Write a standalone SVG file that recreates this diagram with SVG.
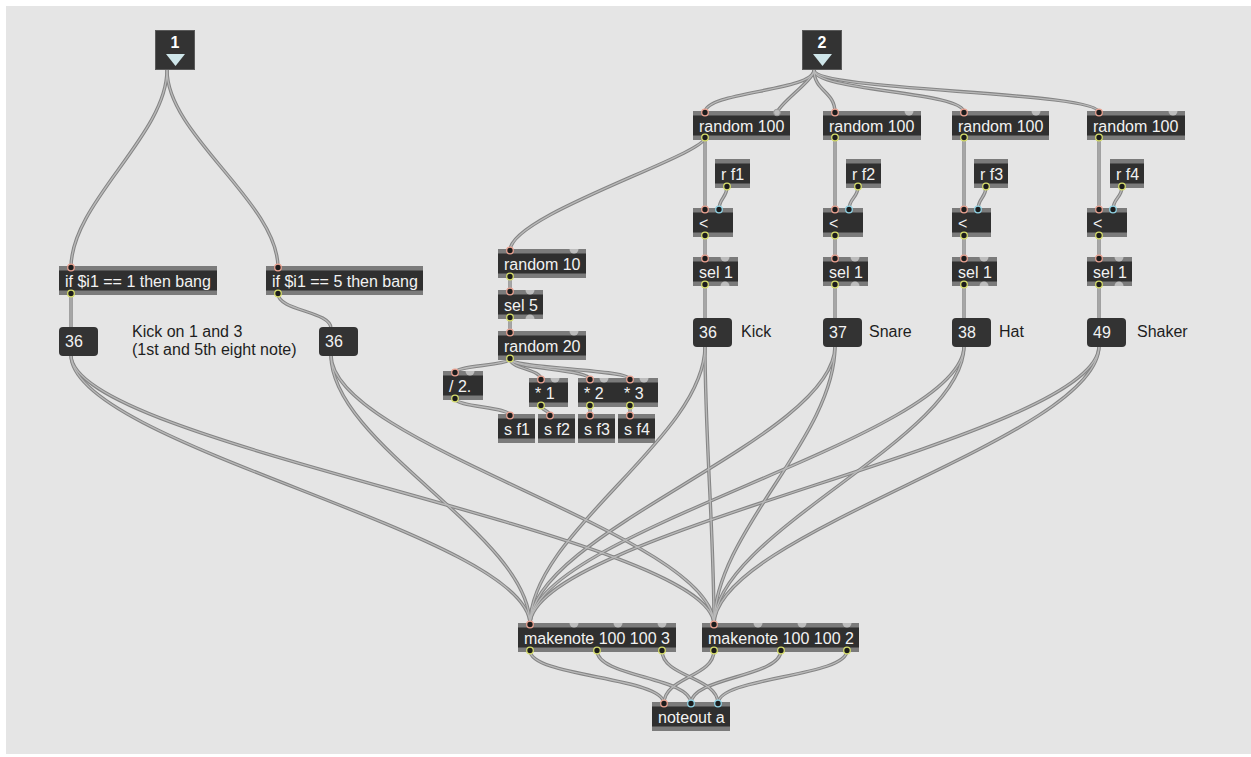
<svg xmlns="http://www.w3.org/2000/svg" xmlns:xlink="http://www.w3.org/1999/xlink" width="1251" height="757" viewBox="0 0 1251 757">
<style>
.bg{fill:#e5e5e5}
.strip{fill:#7b7b7b}
.body{fill:#2f2f2f}
.msg{fill:#333333}
.t{font-family:"Liberation Sans",Arial,sans-serif;font-size:16px;fill:#f2f2f2}
.c{font-family:"Liberation Sans",Arial,sans-serif;font-size:16px;fill:#1e1e1e}
.inl{fill:#333333;stroke:#5a5a5a;stroke-width:1}
.inlt{font-family:"Liberation Sans",Arial,sans-serif;font-size:16px;font-weight:bold;fill:#ffffff}
.tri{fill:#cfe6ea}
.hot{fill:#1c1c1c;stroke:#e9a190;stroke-width:1.3}
.cold{fill:#1c1c1c;stroke:#8fd2e4;stroke-width:1.3}
.graycon{fill:#bdbdbd;stroke:#9a9a9a;stroke-width:1}
.out{fill:#1c1c1c;stroke:#d6dd6a;stroke-width:1.3}
.free{fill:#bdbdbd}
.co{fill:none;stroke:#858585;stroke-width:3.4;stroke-linecap:round}
.ci{fill:none;stroke:#b9b9b9;stroke-width:1.3;stroke-linecap:round}
</style>
<rect x="0" y="0" width="1251" height="757" fill="#ffffff"/>
<rect class="bg" x="6" y="6" width="1245" height="748"/>

<g id="connectors">
<g class="co">
<path id="k1" d="M167,70 C167,135 71,202.5 71,267.5"/>
<path id="k2" d="M167,70 C167,135 278,202.5 278,267.5"/>
<path id="k3" d="M71,293.5 L71,328.5"/>
<path id="k4" d="M278,293.5 C278,311 331,311 331,328.5"/>
<path id="k5" d="M814,70 C814,91.3 705,91.3 705,112.5"/>
<path id="k6" d="M814,70 C814,80 781,102 777,112.5"/>
<path id="k7" d="M814,70 C814,91.3 835,91.3 835,112.5"/>
<path id="k8" d="M814,70 C814,91.3 964,91.3 964,112.5"/>
<path id="k9" d="M814,70 C814,91.3 1099,91.3 1099,112.5"/>
<path id="k10" d="M705,137.5 L705,209.5"/>
<path id="k11" d="M727,186.5 C727,198 719,198 719,209.5"/>
<path id="k12" d="M705,235.5 L705,258.5"/>
<path id="k13" d="M705,284.5 L705,319.5"/>
<path id="k14" d="M835,137.5 L835,209.5"/>
<path id="k15" d="M858,186.5 C858,198 849,198 849,209.5"/>
<path id="k16" d="M835,235.5 L835,258.5"/>
<path id="k17" d="M835,284.5 L835,319.5"/>
<path id="k18" d="M964,137.5 L964,209.5"/>
<path id="k19" d="M986,186.5 C986,198 978,198 978,209.5"/>
<path id="k20" d="M964,235.5 L964,258.5"/>
<path id="k21" d="M964,284.5 L964,319.5"/>
<path id="k22" d="M1099,137.5 L1099,209.5"/>
<path id="k23" d="M1122,186.5 C1122,198 1113,198 1113,209.5"/>
<path id="k24" d="M1099,235.5 L1099,258.5"/>
<path id="k25" d="M1099,284.5 L1099,319.5"/>
<path id="k26" d="M705,137.5 C705,155 510,215 510,250.5"/>
<path id="k27" d="M510,276.5 L510,291.5"/>
<path id="k28" d="M510,317.5 L510,332.5"/>
<path id="k29" d="M510,358.5 C510,365.5 455,365.5 455,372.5"/>
<path id="k30" d="M510,358.5 C510,369 541,369 541,379.5"/>
<path id="k31" d="M510,358.5 C510,369 590,369 590,379.5"/>
<path id="k32" d="M510,358.5 C510,369 630,369 630,379.5"/>
<path id="k33" d="M455,398.5 C455,407 510,407 510,415.5"/>
<path id="k34" d="M541,405.5 C541,410.5 550,410.5 550,415.5"/>
<path id="k35" d="M590,405.5 L590,415.5"/>
<path id="k36" d="M630,405.5 L630,415.5"/>
<path id="k37" d="M71,355 C71,445 530,534.5 530,624.5"/>
<path id="k38" d="M71,355 C71,445 714,534.5 714,624.5"/>
<path id="k39" d="M331,355 C331,445 530,534.5 530,624.5"/>
<path id="k40" d="M331,355 C331,445 714,534.5 714,624.5"/>
<path id="k41" d="M705,346 C705,438 530,532.5 530,624.5"/>
<path id="k42" d="M705,346 C705,438 714,532.5 714,624.5"/>
<path id="k43" d="M835,346 C835,438 530,532.5 530,624.5"/>
<path id="k44" d="M835,346 C835,438 714,532.5 714,624.5"/>
<path id="k45" d="M964,346 C964,438 530,532.5 530,624.5"/>
<path id="k46" d="M964,346 C964,438 714,532.5 714,624.5"/>
<path id="k47" d="M1099,346 C1099,438 530,532.5 530,624.5"/>
<path id="k48" d="M1099,346 C1099,438 714,532.5 714,624.5"/>
<path id="k49" d="M530,650.5 C530,677 664,677 664,703.5"/>
<path id="k50" d="M597,650.5 C597,677 691,677 691,703.5"/>
<path id="k51" d="M662,650.5 C662,677 718,677 718,703.5"/>
<path id="k52" d="M714,650.5 C714,677 664,677 664,703.5"/>
<path id="k53" d="M781,650.5 C781,677 691,677 691,703.5"/>
<path id="k54" d="M847,650.5 C847,677 718,677 718,703.5"/>
</g>
<g class="ci">
<use href="#k1"/><use href="#k2"/><use href="#k3"/><use href="#k4"/><use href="#k5"/><use href="#k6"/><use href="#k7"/><use href="#k8"/><use href="#k9"/><use href="#k10"/>
<use href="#k11"/><use href="#k12"/><use href="#k13"/><use href="#k14"/><use href="#k15"/><use href="#k16"/><use href="#k17"/><use href="#k18"/><use href="#k19"/><use href="#k20"/>
<use href="#k21"/><use href="#k22"/><use href="#k23"/><use href="#k24"/><use href="#k25"/><use href="#k26"/><use href="#k27"/><use href="#k28"/><use href="#k29"/><use href="#k30"/>
<use href="#k31"/><use href="#k32"/><use href="#k33"/><use href="#k34"/><use href="#k35"/><use href="#k36"/><use href="#k37"/><use href="#k38"/><use href="#k39"/><use href="#k40"/>
<use href="#k41"/><use href="#k42"/><use href="#k43"/><use href="#k44"/><use href="#k45"/><use href="#k46"/><use href="#k47"/><use href="#k48"/><use href="#k49"/><use href="#k50"/>
<use href="#k51"/><use href="#k52"/><use href="#k53"/><use href="#k54"/>
</g>
</g>

<g id="inlet1"><rect class="inl" x="155.5" y="30.5" width="39" height="39"/><text class="inlt" x="175" y="48" text-anchor="middle">1</text><polygon class="tri" points="166,54 185,54 175.5,66"/></g>
<g id="inlet2"><rect class="inl" x="802.5" y="30.5" width="39" height="39"/><text class="inlt" x="822" y="48" text-anchor="middle">2</text><polygon class="tri" points="813,54 832,54 822.5,66"/></g>

<g id="if1"><rect class="strip" x="59" y="266" width="158" height="29"/><rect class="body" x="59" y="270.5" width="158" height="20"/><text class="t" x="65" y="287">if $i1 == 1 then bang</text><circle class="hot" cx="71" cy="267.5" r="3.3"/><circle class="out" cx="71" cy="293.5" r="3.3"/></g>
<g id="if5"><rect class="strip" x="266" y="266" width="157" height="29"/><rect class="body" x="266" y="270.5" width="157" height="20"/><text class="t" x="272" y="287">if $i1 == 5 then bang</text><circle class="hot" cx="278" cy="267.5" r="3.3"/><circle class="out" cx="278" cy="293.5" r="3.3"/></g>
<g id="msg36a"><rect class="msg" x="59" y="327" width="39" height="29" rx="4"/><text class="t" x="65" y="347">36</text></g>
<g id="msg36b"><rect class="msg" x="319" y="327" width="39" height="29" rx="4"/><text class="t" x="325" y="347">36</text></g>
<g id="comment-kick13"><text class="c" x="132" y="337">Kick on 1 and 3</text><text class="c" x="132" y="354.5">(1st and 5th eight note)</text></g>

<g id="random100-1"><rect class="strip" x="693" y="111" width="97" height="29"/><rect class="body" x="693" y="115.5" width="97" height="20"/><text class="t" x="699" y="132">random 100</text><circle class="hot" cx="705" cy="112.5" r="3.3"/><circle class="graycon" cx="777" cy="112.5" r="3.3"/><circle class="out" cx="705" cy="137.5" r="3.3"/></g>
<g id="random100-2"><rect class="strip" x="823" y="111" width="98" height="29"/><rect class="body" x="823" y="115.5" width="98" height="20"/><text class="t" x="829" y="132">random 100</text><circle class="hot" cx="835" cy="112.5" r="3.3"/><path class="free" d="M904.5,111 A4.5,4.5 0 0 0 913.5,111 Z"/><circle class="out" cx="835" cy="137.5" r="3.3"/></g>
<g id="random100-3"><rect class="strip" x="952" y="111" width="97" height="29"/><rect class="body" x="952" y="115.5" width="97" height="20"/><text class="t" x="958" y="132">random 100</text><circle class="hot" cx="964" cy="112.5" r="3.3"/><path class="free" d="M1031.5,111 A4.5,4.5 0 0 0 1040.5,111 Z"/><circle class="out" cx="964" cy="137.5" r="3.3"/></g>
<g id="random100-4"><rect class="strip" x="1087" y="111" width="98" height="29"/><rect class="body" x="1087" y="115.5" width="98" height="20"/><text class="t" x="1093" y="132">random 100</text><circle class="hot" cx="1099" cy="112.5" r="3.3"/><path class="free" d="M1168.5,111 A4.5,4.5 0 0 0 1177.5,111 Z"/><circle class="out" cx="1099" cy="137.5" r="3.3"/></g>

<g id="rf1"><rect class="strip" x="715" y="159" width="35" height="29"/><rect class="body" x="715" y="163.5" width="35" height="20"/><text class="t" x="721" y="180">r f1</text><circle class="out" cx="727" cy="186.5" r="3.3"/></g>
<g id="rf2"><rect class="strip" x="846" y="159" width="35" height="29"/><rect class="body" x="846" y="163.5" width="35" height="20"/><text class="t" x="852" y="180">r f2</text><circle class="out" cx="858" cy="186.5" r="3.3"/></g>
<g id="rf3"><rect class="strip" x="974" y="159" width="34" height="29"/><rect class="body" x="974" y="163.5" width="34" height="20"/><text class="t" x="980" y="180">r f3</text><circle class="out" cx="986" cy="186.5" r="3.3"/></g>
<g id="rf4"><rect class="strip" x="1110" y="159" width="34" height="29"/><rect class="body" x="1110" y="163.5" width="34" height="20"/><text class="t" x="1116" y="180">r f4</text><circle class="out" cx="1122" cy="186.5" r="3.3"/></g>

<g id="lt1"><rect class="strip" x="693" y="208" width="40" height="29"/><rect class="body" x="693" y="212.5" width="40" height="20"/><text class="t" x="699" y="229">&lt;</text><circle class="hot" cx="705" cy="209.5" r="3.3"/><circle class="cold" cx="719" cy="209.5" r="3.3"/><circle class="out" cx="705" cy="235.5" r="3.3"/></g>
<g id="lt2"><rect class="strip" x="823" y="208" width="40" height="29"/><rect class="body" x="823" y="212.5" width="40" height="20"/><text class="t" x="829" y="229">&lt;</text><circle class="hot" cx="835" cy="209.5" r="3.3"/><circle class="cold" cx="849" cy="209.5" r="3.3"/><circle class="out" cx="835" cy="235.5" r="3.3"/></g>
<g id="lt3"><rect class="strip" x="952" y="208" width="39" height="29"/><rect class="body" x="952" y="212.5" width="39" height="20"/><text class="t" x="958" y="229">&lt;</text><circle class="hot" cx="964" cy="209.5" r="3.3"/><circle class="cold" cx="978" cy="209.5" r="3.3"/><circle class="out" cx="964" cy="235.5" r="3.3"/></g>
<g id="lt4"><rect class="strip" x="1087" y="208" width="40" height="29"/><rect class="body" x="1087" y="212.5" width="40" height="20"/><text class="t" x="1093" y="229">&lt;</text><circle class="hot" cx="1099" cy="209.5" r="3.3"/><circle class="cold" cx="1113" cy="209.5" r="3.3"/><circle class="out" cx="1099" cy="235.5" r="3.3"/></g>

<g id="sel1-1"><rect class="strip" x="693" y="257" width="45" height="29"/><rect class="body" x="693" y="261.5" width="45" height="20"/><text class="t" x="699" y="278">sel 1</text><circle class="hot" cx="705" cy="258.5" r="3.3"/><path class="free" d="M720.5,257 A4.5,4.5 0 0 0 729.5,257 Z"/><circle class="out" cx="705" cy="284.5" r="3.3"/><path class="free" d="M720.5,286 A4.5,4.5 0 0 1 729.5,286 Z"/></g>
<g id="sel1-2"><rect class="strip" x="823" y="257" width="45" height="29"/><rect class="body" x="823" y="261.5" width="45" height="20"/><text class="t" x="829" y="278">sel 1</text><circle class="hot" cx="835" cy="258.5" r="3.3"/><path class="free" d="M850.5,257 A4.5,4.5 0 0 0 859.5,257 Z"/><circle class="out" cx="835" cy="284.5" r="3.3"/><path class="free" d="M850.5,286 A4.5,4.5 0 0 1 859.5,286 Z"/></g>
<g id="sel1-3"><rect class="strip" x="952" y="257" width="45" height="29"/><rect class="body" x="952" y="261.5" width="45" height="20"/><text class="t" x="958" y="278">sel 1</text><circle class="hot" cx="964" cy="258.5" r="3.3"/><path class="free" d="M979.5,257 A4.5,4.5 0 0 0 988.5,257 Z"/><circle class="out" cx="964" cy="284.5" r="3.3"/><path class="free" d="M979.5,286 A4.5,4.5 0 0 1 988.5,286 Z"/></g>
<g id="sel1-4"><rect class="strip" x="1087" y="257" width="45" height="29"/><rect class="body" x="1087" y="261.5" width="45" height="20"/><text class="t" x="1093" y="278">sel 1</text><circle class="hot" cx="1099" cy="258.5" r="3.3"/><path class="free" d="M1114.5,257 A4.5,4.5 0 0 0 1123.5,257 Z"/><circle class="out" cx="1099" cy="284.5" r="3.3"/><path class="free" d="M1114.5,286 A4.5,4.5 0 0 1 1123.5,286 Z"/></g>

<g id="msg-kick"><rect class="msg" x="693" y="318" width="39" height="29" rx="4"/><text class="t" x="699" y="338">36</text><text class="c" x="741" y="337">Kick</text></g>
<g id="msg-snare"><rect class="msg" x="823" y="318" width="39" height="29" rx="4"/><text class="t" x="829" y="338">37</text><text class="c" x="869" y="337">Snare</text></g>
<g id="msg-hat"><rect class="msg" x="952" y="318" width="39" height="29" rx="4"/><text class="t" x="958" y="338">38</text><text class="c" x="999" y="337">Hat</text></g>
<g id="msg-shaker"><rect class="msg" x="1087" y="318" width="39" height="29" rx="4"/><text class="t" x="1093" y="338">49</text><text class="c" x="1137" y="337">Shaker</text></g>

<g id="random10"><rect class="strip" x="498" y="249" width="88" height="29"/><rect class="body" x="498" y="253.5" width="88" height="20"/><text class="t" x="504" y="270">random 10</text><circle class="hot" cx="510" cy="250.5" r="3.3"/><path class="free" d="M569.5,249 A4.5,4.5 0 0 0 578.5,249 Z"/><circle class="out" cx="510" cy="276.5" r="3.3"/></g>
<g id="sel5"><rect class="strip" x="498" y="290" width="45" height="29"/><rect class="body" x="498" y="294.5" width="45" height="20"/><text class="t" x="504" y="311">sel 5</text><circle class="hot" cx="510" cy="291.5" r="3.3"/><path class="free" d="M525.5,290 A4.5,4.5 0 0 0 534.5,290 Z"/><circle class="out" cx="510" cy="317.5" r="3.3"/><path class="free" d="M525.5,319 A4.5,4.5 0 0 1 534.5,319 Z"/></g>
<g id="random20"><rect class="strip" x="498" y="331" width="88" height="29"/><rect class="body" x="498" y="335.5" width="88" height="20"/><text class="t" x="504" y="352">random 20</text><circle class="hot" cx="510" cy="332.5" r="3.3"/><path class="free" d="M569.5,331 A4.5,4.5 0 0 0 578.5,331 Z"/><circle class="out" cx="510" cy="358.5" r="3.3"/></g>
<g id="div2"><rect class="strip" x="443" y="371" width="40" height="29"/><rect class="body" x="443" y="375.5" width="40" height="20"/><text class="t" x="449" y="392">/ 2.</text><circle class="hot" cx="455" cy="372.5" r="3.3"/><path class="free" d="M465.5,371 A4.5,4.5 0 0 0 474.5,371 Z"/><circle class="out" cx="455" cy="398.5" r="3.3"/></g>
<g id="mul1"><rect class="strip" x="529" y="378" width="39" height="29"/><rect class="body" x="529" y="382.5" width="39" height="20"/><text class="t" x="535" y="399">* 1</text><circle class="hot" cx="541" cy="379.5" r="3.3"/><path class="free" d="M550.5,378 A4.5,4.5 0 0 0 559.5,378 Z"/><circle class="out" cx="541" cy="405.5" r="3.3"/></g>
<g id="mul2"><rect class="strip" x="578" y="378" width="40" height="29"/><rect class="body" x="578" y="382.5" width="40" height="20"/><text class="t" x="584" y="399">* 2</text><circle class="hot" cx="590" cy="379.5" r="3.3"/><path class="free" d="M599.5,378 A4.5,4.5 0 0 0 608.5,378 Z"/><circle class="out" cx="590" cy="405.5" r="3.3"/></g>
<g id="mul3"><rect class="strip" x="618" y="378" width="40" height="29"/><rect class="body" x="618" y="382.5" width="40" height="20"/><text class="t" x="624" y="399">* 3</text><circle class="hot" cx="630" cy="379.5" r="3.3"/><path class="free" d="M639.5,378 A4.5,4.5 0 0 0 648.5,378 Z"/><circle class="out" cx="630" cy="405.5" r="3.3"/></g>
<g id="sf1"><rect class="strip" x="498" y="414" width="37" height="29"/><rect class="body" x="498" y="418.5" width="37" height="20"/><text class="t" x="504" y="435">s f1</text><circle class="hot" cx="510" cy="415.5" r="3.3"/></g>
<g id="sf2"><rect class="strip" x="538" y="414" width="37" height="29"/><rect class="body" x="538" y="418.5" width="37" height="20"/><text class="t" x="544" y="435">s f2</text><circle class="hot" cx="550" cy="415.5" r="3.3"/></g>
<g id="sf3"><rect class="strip" x="578" y="414" width="37" height="29"/><rect class="body" x="578" y="418.5" width="37" height="20"/><text class="t" x="584" y="435">s f3</text><circle class="hot" cx="590" cy="415.5" r="3.3"/></g>
<g id="sf4"><rect class="strip" x="618" y="414" width="37" height="29"/><rect class="body" x="618" y="418.5" width="37" height="20"/><text class="t" x="624" y="435">s f4</text><circle class="hot" cx="630" cy="415.5" r="3.3"/></g>

<g id="makenote3"><rect class="strip" x="518" y="623" width="158" height="29"/><rect class="body" x="518" y="627.5" width="158" height="20"/><text class="t" x="524" y="644">makenote 100 100 3</text><circle class="hot" cx="530" cy="624.5" r="3.3"/><path class="free" d="M569.5,623 A4.5,4.5 0 0 0 578.5,623 Z"/><path class="free" d="M613.5,623 A4.5,4.5 0 0 0 622.5,623 Z"/><path class="free" d="M657.5,623 A4.5,4.5 0 0 0 666.5,623 Z"/><circle class="out" cx="530" cy="650.5" r="3.3"/><circle class="out" cx="597" cy="650.5" r="3.3"/><circle class="out" cx="662" cy="650.5" r="3.3"/></g>
<g id="makenote2"><rect class="strip" x="702" y="623" width="157" height="29"/><rect class="body" x="702" y="627.5" width="157" height="20"/><text class="t" x="708" y="644">makenote 100 100 2</text><circle class="hot" cx="714" cy="624.5" r="3.3"/><path class="free" d="M753.5,623 A4.5,4.5 0 0 0 762.5,623 Z"/><path class="free" d="M797.5,623 A4.5,4.5 0 0 0 806.5,623 Z"/><path class="free" d="M842.5,623 A4.5,4.5 0 0 0 851.5,623 Z"/><circle class="out" cx="714" cy="650.5" r="3.3"/><circle class="out" cx="781" cy="650.5" r="3.3"/><circle class="out" cx="847" cy="650.5" r="3.3"/></g>
<g id="noteout"><rect class="strip" x="652" y="702" width="78" height="29"/><rect class="body" x="652" y="706.5" width="78" height="20"/><text class="t" x="658" y="723">noteout a</text><circle class="hot" cx="664" cy="703.5" r="3.3"/><circle class="cold" cx="691" cy="703.5" r="3.3"/><circle class="cold" cx="718" cy="703.5" r="3.3"/></g>
</svg>
